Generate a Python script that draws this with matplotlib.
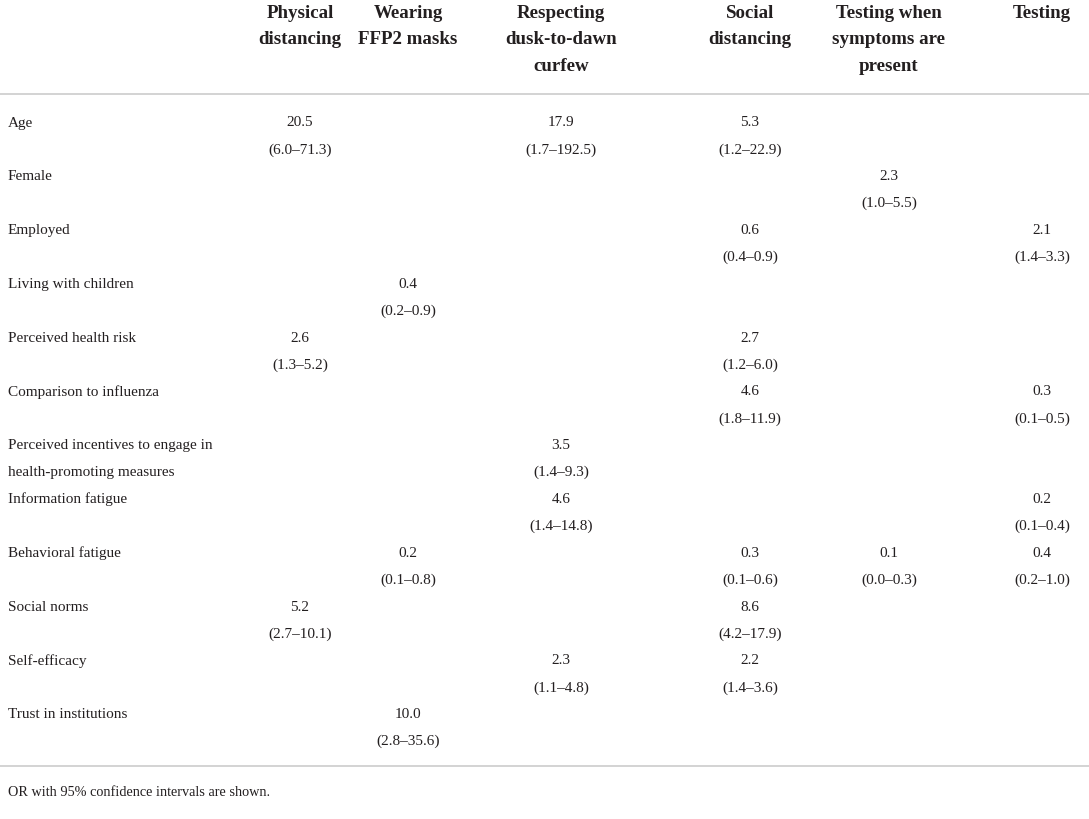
import matplotlib.pyplot as plt

# row labels (regression predictors)
row_labels = [
    "Age",
    "Female",
    "Employed",
    "Living with children",
    "Perceived health risk",
    "Comparison to influenza",
    "Perceived incentives to engage in\nhealth-promoting measures",
    "Information fatigue",
    "Behavioral fatigue",
    "Social norms",
    "Self-efficacy",
    "Trust in institutions",
]

col_headers = [
    "Physical\ndistancing",
    "Wearing\nFFP2 masks",
    "Respecting\ndusk-to-dawn\ncurfew",
    "Social\ndistancing",
    "Testing when\nsymptoms are\npresent",
    "Testing",
]

N = None
# odds ratios per column (one entry per row, None = not shown)
or_physical = [20.5, N, N, N, 2.6, N, N, N, N, 5.2, N, N]
lo_physical = [6.0, N, N, N, 1.3, N, N, N, N, 2.7, N, N]
hi_physical = [71.3, N, N, N, 5.2, N, N, N, N, 10.1, N, N]

or_ffp2 = [N, N, N, 0.4, N, N, N, N, 0.2, N, N, 10.0]
lo_ffp2 = [N, N, N, 0.2, N, N, N, N, 0.1, N, N, 2.8]
hi_ffp2 = [N, N, N, 0.9, N, N, N, N, 0.8, N, N, 35.6]

or_curfew = [17.9, N, N, N, N, N, 3.5, 4.6, N, N, 2.3, N]
lo_curfew = [1.7, N, N, N, N, N, 1.4, 1.4, N, N, 1.1, N]
hi_curfew = [192.5, N, N, N, N, N, 9.3, 14.8, N, N, 4.8, N]

or_social = [5.3, N, 0.6, N, 2.7, 4.6, N, N, 0.3, 8.6, 2.2, N]
lo_social = [1.2, N, 0.4, N, 1.2, 1.8, N, N, 0.1, 4.2, 1.4, N]
hi_social = [22.9, N, 0.9, N, 6.0, 11.9, N, N, 0.6, 17.9, 3.6, N]

or_symptoms = [N, 2.3, N, N, N, N, N, N, 0.1, N, N, N]
lo_symptoms = [N, 1.0, N, N, N, N, N, N, 0.0, N, N, N]
hi_symptoms = [N, 5.5, N, N, N, N, N, N, 0.3, N, N, N]

or_testing = [N, N, 2.1, N, N, 0.3, N, 0.2, 0.4, N, N, N]
lo_testing = [N, N, 1.4, N, N, 0.1, N, 0.1, 0.2, N, N, N]
hi_testing = [N, N, 3.3, N, N, 0.5, N, 0.4, 1.0, N, N, N]

footnote = "OR with 95% confidence intervals are shown."

columns = [
    (or_physical, lo_physical, hi_physical),
    (or_ffp2, lo_ffp2, hi_ffp2),
    (or_curfew, lo_curfew, hi_curfew),
    (or_social, lo_social, hi_social),
    (or_symptoms, lo_symptoms, hi_symptoms),
    (or_testing, lo_testing, hi_testing),
]

# layout in pixel units
W, H = 1089, 820
col_x = [300, 408, 561, 750, 889, 1042]
header_y = 13
header_h = 26.6
line_h = 26.8
top_rule = 95
first_row = 123
row_pitch = 53.8
bottom_rule = 767

plt.rcParams["font.family"] = ["Liberation Serif", "DejaVu Serif"]
body_size = 11.0
head_size = 13.6
text_color = "#231f20"

fig = plt.figure(figsize=(W / 100, H / 100), dpi=100)
ax = fig.add_axes([0, 0, 1, 1])
ax.set_xlim(0, W)
ax.set_ylim(H, 0)
ax.axis("off")

# header, one text per line
for x, head in zip(col_x, col_headers):
    for k, line in enumerate(head.split("\n")):
        ax.text(x, header_y + k * header_h, line, ha="center", va="center",
                fontsize=head_size, fontweight="bold", color=text_color)

ax.axhline(top_rule, color="#cccccc", lw=1.2)
ax.axhline(bottom_rule, color="#cccccc", lw=1.2)

# body
for i, label in enumerate(row_labels):
    y = first_row + i * row_pitch
    for j, line in enumerate(label.split("\n")):
        ax.text(8, y + j * line_h, line, ha="left", va="center",
                fontsize=body_size, color=text_color)
    for x, (ors, los, his) in zip(col_x, columns):
        if ors[i] is None:
            continue
        ax.text(x, y, f"{ors[i]:.1f}", ha="center", va="center",
                fontsize=body_size, color=text_color)
        ax.text(x, y + line_h, f"({los[i]:.1f}\u2013{his[i]:.1f})", ha="center",
                va="center", fontsize=body_size, color=text_color)

ax.text(8, 793, footnote, ha="left", va="center", fontsize=body_size * 0.93,
        color=text_color)

fig.savefig("out.png", dpi=100)
